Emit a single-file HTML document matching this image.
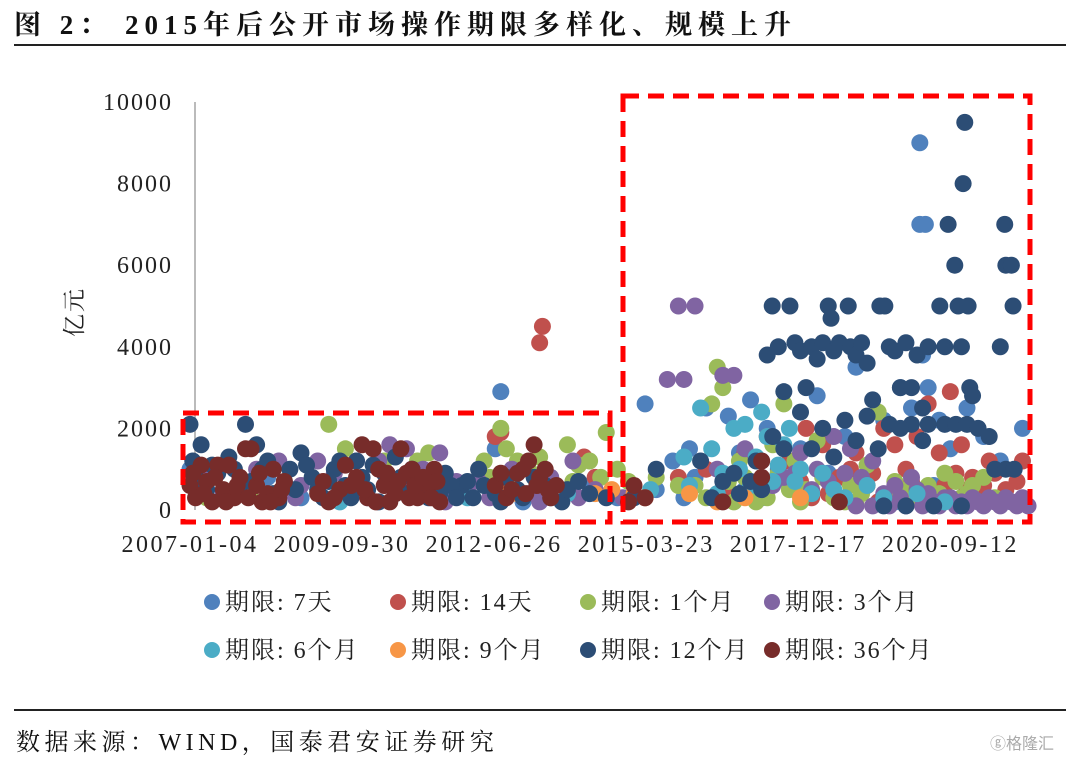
<!DOCTYPE html>
<html><head><meta charset="utf-8">
<style>
body{margin:0;background:#fff;width:1080px;height:759px;overflow:hidden;font-family:"Liberation Serif","Noto Serif CJK SC",serif;}
#title{position:absolute;left:14px;top:3px;font-size:27px;font-weight:bold;color:#111;letter-spacing:6px;}
#tline{position:absolute;left:14px;top:44px;width:1052px;height:2px;background:#222;}
#sline{position:absolute;left:14px;top:709px;width:1052px;height:2px;background:#222;}
#source{position:absolute;left:16px;top:722px;font-size:24px;color:#111;letter-spacing:4.5px;}
#wm{position:absolute;left:990px;top:730px;font-size:16px;color:#aaa;font-family:"Liberation Sans","Noto Sans CJK SC",sans-serif;}
svg{position:absolute;left:0;top:0;}
</style></head><body>
<div id="title">图 2： 2015年后公开市场操作期限多样化、规模上升</div>
<div id="tline"></div>
<svg id="chart" width="1080" height="700"></svg>
<div id="sline"></div>
<div id="source">数据来源：WIND，国泰君安证券研究</div>
<div id="wm">ⓖ格隆汇</div>
<script>
const yTicks=[0,2000,4000,6000,8000,10000];
const xTickLabels=["2007-01-04","2009-09-30","2012-06-26","2015-03-23","2017-12-17","2020-09-12"];
const xTickYears=[2007.0,2009.74,2012.48,2015.22,2017.96,2020.70];
const seriesNames=["期限: 7天","期限: 14天","期限: 1个月","期限: 3个月","期限: 6个月","期限: 9个月","期限: 12个月","期限: 36个月"];
const seriesColors=["#4f81bd","#c0504d","#9bbb59","#8064a2","#4bacc6","#f79646","#2c4d75","#772c2a"];
const s7d=[[2007.0,1000],[2007.3,500],[2008.4,800],[2009.0,300],[2010.7,400],[2011.7,500],[2012.6,2900],[2012.5,1500],[2013.0,200],[2014.2,600],[2014.7,300],[2015.2,2600],[2015.4,500],[2015.7,1200],[2016.0,1500],[2016.3,2500],[2016.7,2300],[2016.9,1400],[2017.1,2700],[2017.4,2000],[2017.6,1000],[2017.8,600],[2018.0,1500],[2018.3,2800],[2018.5,900],[2018.8,1800],[2019.0,3500],[2019.3,1200],[2019.5,2200],[2019.8,3000],[2020.0,2500],[2020.15,9000],[2020.15,7000],[2020.25,7000],[2020.2,3800],[2020.3,3000],[2020.5,2200],[2020.7,1500],[2021.0,2500],[2021.3,1800],[2021.6,1200],[2022.0,2000],[2019.7,200],[2020.9,300],[2021.8,200],[2016.1,800],[2016.5,400],[2017.0,500],[2017.3,300],[2018.1,400],[2018.7,300],[2019.1,500],[2020.4,600],[2021.2,400],[2015.9,300]];
const s14d=[[2012.5,1800],[2012.6,1900],[2013.35,4500],[2013.3,4100],[2014.1,1300],[2014.3,800],[2013.8,500],[2015.8,800],[2016.3,1000],[2016.7,500],[2017.0,1400],[2017.4,1800],[2017.8,1200],[2018.1,2000],[2018.4,1600],[2018.7,800],[2019.0,1400],[2019.2,600],[2019.5,2000],[2019.7,1600],[2019.9,1000],[2020.1,1800],[2020.3,2600],[2020.5,1400],[2020.7,2900],[2020.9,1600],[2021.1,800],[2021.4,1200],[2021.7,500],[2022.0,1200],[2019.4,200],[2020.2,400],[2018.2,300],[2017.2,600],[2017.6,900],[2018.0,700],[2018.5,400],[2018.9,1000],[2019.3,900],[2019.8,500],[2020.0,700],[2020.6,600],[2020.8,900],[2021.0,500],[2021.3,600],[2021.5,900],[2021.9,700]];
const s1m=[[2007.3,300],[2008.1,500],[2009.5,2100],[2009.8,1500],[2010.5,1200],[2011.1,1200],[2011.3,1400],[2011.6,800],[2012.3,1200],[2012.6,2000],[2012.7,1500],[2012.9,1200],[2013.1,1000],[2013.3,1300],[2013.5,600],[2013.8,1600],[2014.0,1100],[2014.5,1900],[2014.7,1000],[2014.9,700],[2015.4,800],[2015.8,600],[2016.1,600],[2016.5,3500],[2016.6,3000],[2016.4,2600],[2016.8,200],[2017.0,800],[2017.2,200],[2017.5,1600],[2017.7,2600],[2017.9,1200],[2018.1,500],[2018.3,1700],[2018.6,300],[2018.9,600],[2019.2,1100],[2019.4,2400],[2019.7,700],[2020.0,300],[2020.3,600],[2020.6,900],[2020.8,700],[2021.0,400],[2021.3,800],[2019.0,200],[2017.6,900],[2016.9,1200],[2012.4,800],[2012.8,900],[2013.9,700],[2014.2,1200],[2014.4,800],[2016.3,300],[2016.7,700],[2017.1,400],[2017.4,300],[2017.8,500],[2018.0,200],[2018.4,800],[2018.8,200],[2019.1,400],[2019.6,300],[2019.9,500],[2020.2,200],[2020.5,400],[2020.9,300],[2021.1,600],[2021.5,300]];
const s3m=[[2007.2,800],[2007.6,400],[2008.2,1000],[2008.6,1200],[2009.0,600],[2009.3,1200],[2009.6,900],[2010.0,1200],[2010.4,1200],[2010.6,1600],[2010.9,1500],[2011.2,1000],[2011.5,1400],[2011.8,700],[2012.0,500],[2012.4,300],[2012.8,1000],[2013.1,400],[2013.5,800],[2013.9,1200],[2014.0,300],[2014.3,500],[2014.8,300],[2015.2,300],[2015.6,3200],[2015.8,5000],[2015.9,3200],[2016.1,5000],[2016.6,3300],[2016.8,3300],[2016.5,1000],[2017.0,1500],[2017.3,1200],[2017.7,800],[2018.0,1400],[2018.3,1000],[2018.6,1800],[2018.9,1500],[2019.1,800],[2019.3,1200],[2019.7,600],[2020.0,800],[2020.3,400],[2020.6,300],[2020.9,200],[2021.2,200],[2021.5,200],[2021.8,200],[2022.1,100],[2019.0,100],[2019.3,100],[2019.6,100],[2019.9,100],[2020.2,100],[2020.5,100],[2020.8,100],[2021.0,100],[2021.3,100],[2021.6,100],[2021.9,100],[2007.9,600],[2008.9,300],[2009.8,500],[2010.2,300],[2011.0,600],[2011.6,200],[2012.2,700],[2013.3,200],[2017.5,600],[2017.9,900],[2018.2,500],[2018.5,700],[2018.8,900],[2019.5,400],[2019.8,300],[2020.1,500],[2020.4,200],[2020.7,300],[2021.1,300],[2021.4,300],[2021.7,300],[2022.0,300]];
const s6m=[[2015.3,500],[2015.9,1300],[2016.2,2500],[2016.4,1500],[2016.6,900],[2016.8,2000],[2017.0,2100],[2017.2,1300],[2017.3,2400],[2017.4,1800],[2017.5,700],[2017.7,1600],[2017.8,2000],[2018.0,1000],[2018.2,400],[2018.6,500],[2019.5,300],[2013.8,400],[2012.0,300],[2009.7,200],[2016.0,600],[2016.5,400],[2016.9,1000],[2017.1,600],[2017.6,1100],[2017.9,700],[2018.4,900],[2018.8,300],[2019.2,600],[2020.1,400],[2020.6,200]];
const s9m=[[2012.6,600],[2012.9,400],[2014.3,400],[2014.6,500],[2015.0,400],[2015.2,300],[2016.0,400],[2016.5,200],[2017.0,300],[2018.0,300]];
const s12m=[[2007.0,2100],[2007.05,1200],[2007.1,800],[2007.2,1600],[2007.3,500],[2007.5,900],[2007.7,1300],[2007.9,600],[2008.0,2100],[2008.2,1600],[2008.3,1000],[2008.5,400],[2008.7,700],[2009.0,1400],[2009.2,800],[2009.4,300],[2009.6,1000],[2009.8,600],[2010.0,1200],[2010.2,500],[2010.5,900],[2010.7,1300],[2010.9,400],[2011.1,700],[2011.3,300],[2011.6,900],[2011.9,600],[2012.2,1000],[2012.5,400],[2012.7,800],[2013.0,300],[2013.4,600],[2013.7,200],[2014.2,400],[2015.0,300],[2015.4,1000],[2016.2,1200],[2016.6,700],[2016.9,400],[2017.1,700],[2017.2,1200],[2017.5,1800],[2017.4,3800],[2017.49,5000],[2017.6,4000],[2017.7,2900],[2017.81,5000],[2017.9,4100],[2018.0,3900],[2018.1,3000],[2018.2,4000],[2018.3,3700],[2018.4,4100],[2018.5,5000],[2018.55,4700],[2018.6,3900],[2018.7,4100],[2018.86,5000],[2018.9,4000],[2019.0,3800],[2019.1,4100],[2019.2,3600],[2019.3,2700],[2019.43,5000],[2019.52,5000],[2019.6,4000],[2019.7,3900],[2019.8,3000],[2019.9,4100],[2020.0,3000],[2020.1,3800],[2020.2,2500],[2020.3,4000],[2020.51,5000],[2020.6,4000],[2020.66,7000],[2020.78,6000],[2020.84,5000],[2020.9,4000],[2020.96,9500],[2020.93,8000],[2021.02,5000],[2021.05,3000],[2021.1,2800],[2021.6,4000],[2021.68,7000],[2021.7,6000],[2021.8,6000],[2021.83,5000],[2018.0,2400],[2018.4,2000],[2018.8,2200],[2019.2,2300],[2019.6,2100],[2020.0,2100],[2020.3,2100],[2020.6,2100],[2020.8,2100],[2021.0,2100],[2021.2,2000],[2021.4,1800],[2021.5,1000],[2021.7,1000],[2021.85,1000],[2019.5,100],[2019.9,100],[2020.4,100],[2020.9,100],[2007.15,400],[2007.4,1100],[2007.6,300],[2007.8,1000],[2008.1,700],[2008.4,1200],[2008.6,200],[2008.8,1000],[2008.9,500],[2009.1,1100],[2009.3,500],[2009.5,700],[2009.7,1200],[2009.9,300],[2010.1,800],[2010.3,1100],[2010.4,200],[2010.6,600],[2010.8,800],[2011.0,1000],[2011.2,500],[2011.4,800],[2011.5,400],[2011.7,600],[2011.8,300],[2012.0,700],[2012.1,300],[2012.3,600],[2012.6,200],[2012.9,500],[2013.2,800],[2013.5,300],[2013.8,500],[2014.0,700],[2014.5,300],[2016.4,300],[2016.8,900],[2017.3,500],[2017.7,1500],[2018.2,1500],[2018.6,1300],[2019.0,1700],[2019.4,1500],[2019.8,2000],[2020.2,1700]];
const s36m=[[2007.0,600],[2007.1,300],[2007.2,1100],[2007.3,700],[2007.4,200],[2007.5,1100],[2007.6,500],[2007.7,1100],[2007.8,300],[2007.9,800],[2008.0,1500],[2008.1,1500],[2008.2,600],[2008.3,200],[2008.4,400],[2008.5,1000],[2008.6,300],[2008.7,700],[2009.3,400],[2009.5,200],[2009.7,500],[2009.8,1100],[2010.0,800],[2010.1,1600],[2010.2,300],[2010.3,1500],[2010.4,1000],[2010.5,600],[2010.6,200],[2010.7,400],[2010.8,1500],[2010.9,900],[2011.0,1000],[2011.1,300],[2011.3,600],[2011.4,1000],[2011.5,200],[2012.5,600],[2012.7,300],[2012.9,900],[2013.0,1000],[2013.1,1200],[2013.2,1600],[2013.3,800],[2013.4,1000],[2013.5,300],[2013.6,600],[2015.0,600],[2015.2,300],[2014.9,200],[2017.3,800],[2017.3,1200],[2016.6,200],[2018.7,200],[2007.05,900],[2007.25,400],[2007.45,800],[2007.65,200],[2007.85,600],[2008.05,300],[2008.25,900],[2008.45,200],[2008.65,500],[2009.4,700],[2009.6,300],[2009.9,600],[2010.15,500],[2010.35,200],[2010.55,900],[2010.75,700],[2010.95,300],[2011.05,600],[2011.2,800],[2011.35,300],[2011.45,700],[2012.6,900],[2012.8,500],[2013.05,400],[2013.25,600],[2013.45,500]];
const allSeries=[s7d,s14d,s1m,s3m,s6m,s9m,s12m,s36m];

const NS="http://www.w3.org/2000/svg";
const svg=document.getElementById('chart');
const X0=190,PXY=55.5,Y0=510,PXV=0.0408;
function xS(yr){return X0+(yr-2007)*PXY;}
function yS(v){return Y0-v*PXV;}
function mk(tag,attrs){const e=document.createElementNS(NS,tag);for(const k in attrs)e.setAttribute(k,attrs[k]);svg.appendChild(e);return e;}

const ax=mk('line',{x1:195,y1:yS(10000),x2:195,y2:Y0,stroke:'#bbb','stroke-width':2});


yTicks.forEach(v=>{
  const t=mk('text',{x:173,y:yS(v)+8,'text-anchor':'end','font-size':24,fill:'#222','letter-spacing':'2'});
  t.textContent=v;
  
  
});
xTickLabels.forEach((l,i)=>{
  const t=mk('text',{x:xS(xTickYears[i]),y:552,'text-anchor':'middle','font-size':24,fill:'#222','letter-spacing':'2.5'});
  t.textContent=l;
  
  
});
const yt=mk('text',{x:0,y:0,'font-size':23,fill:'#222',transform:'translate(82,312) rotate(-90)','text-anchor':'middle','letter-spacing':'2'});
yt.textContent='亿元';



allSeries.forEach((s,i)=>{
  s.forEach(p=>{
    const c=mk('circle',{cx:xS(p[0]),cy:yS(p[1]),r:8.5,fill:seriesColors[i]});
    
    
  });
});

const b1=mk('rect',{x:183,y:413,width:427,height:109,fill:'none',stroke:'#ff0000','stroke-width':5,'stroke-dasharray':'16,9'});


const b2=mk('rect',{x:623,y:96,width:407,height:426,fill:'none',stroke:'#ff0000','stroke-width':5,'stroke-dasharray':'16,9'});



const legX=[212,398,588,772];
seriesNames.forEach((n,i)=>{
  const cx=legX[i%4],cy=i<4?602:650;
  const c=mk('circle',{cx:cx,cy:cy,r:8,fill:seriesColors[i]});
  
  
  const t=mk('text',{x:cx+13,y:cy+8,'font-size':24,fill:'#222','letter-spacing':'2'});
  t.textContent=n;
  
  
});
</script>
</body></html>
